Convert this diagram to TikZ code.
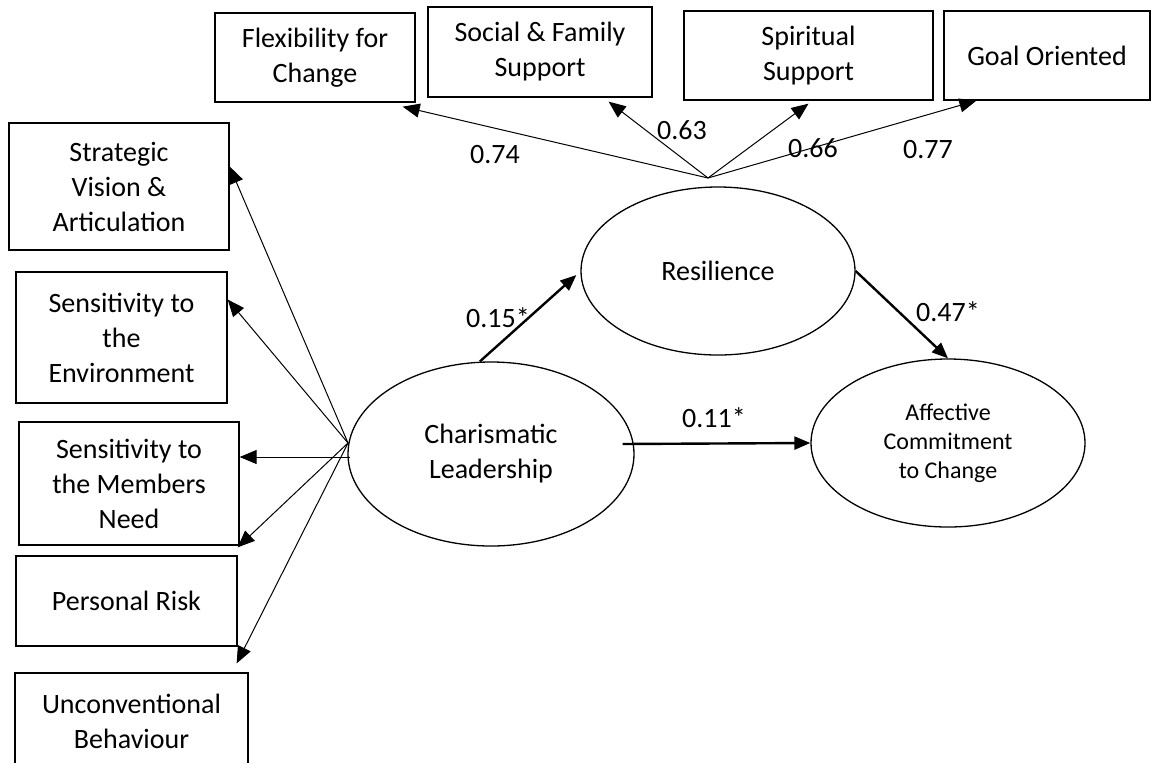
\documentclass[tikz,border=0pt]{standalone}
\usepackage{fontspec}
\setmainfont{Carlito}
\usetikzlibrary{shapes.geometric,arrows.meta}

\begin{document}
\begin{tikzpicture}
[x=0.5pt, y=-0.5pt,
 every node/.style={inner sep=0pt, font=\fontsize{14}{17.5}\selectfont},
 indbox/.style={draw=black, line width=0.65pt, align=center},
 latent/.style={draw=black, ellipse, line width=0.65pt, align=center},
 load/.style={line width=0.5pt, -{Triangle[length=8.5pt, width=7pt]}},
 path/.style={line width=1.2pt, -{Triangle[length=8pt, width=6.5pt]}}]
\useasboundingbox (0,0) rectangle (1151,762);
% resilience indicators
\node (flex) [indbox, minimum width=100pt, minimum height=44.5pt] at (315, 57.5) {Flexibility for\\Change};
\node (social) [indbox, minimum width=112pt, minimum height=45pt] at (540, 52) {Social \& Family\\Support};
\node (spirit) [indbox, minimum width=124.5pt, minimum height=44.5pt] at (808.5, 55.5) {Spiritual\\Support};
\node (goal) [indbox, minimum width=103pt, minimum height=44.5pt] at (1047, 55.5) {Goal Oriented};
% charismatic leadership indicators
\node (strat) [indbox, minimum width=110pt, minimum height=63.5pt] at (119, 186.5) {Strategic\\Vision \&\\Articulation};
\node (env) [indbox, minimum width=105.5pt, minimum height=65.5pt] at (121.5, 337.5) {Sensitivity to\\the\\Environment};
\node (memb) [indbox, minimum width=110pt, minimum height=61.5pt] at (129, 483.5) {Sensitivity to\\the Members\\Need};
\node (pers) [indbox, minimum width=110.5pt, minimum height=45pt] at (126.5, 601) {Personal Risk};
\node (unconv) [indbox, minimum width=116.5pt, minimum height=48pt] at (131.5, 721) {Unconventional\\Behaviour};
% latent variables
\node (char) [latent, minimum width=143pt, minimum height=92pt] at (491, 454) {Charismatic\\Leadership};
\node (resil) [latent, minimum width=137pt, minimum height=84pt] at (718, 271) {Resilience};
\node (affect) [latent, minimum width=137pt, minimum height=84pt, font=\fontsize{12}{14.5}\selectfont] at (948, 443) {Affective\\Commitment\\to Change};
\coordinate (rhub) at (708, 178);
\coordinate (chub) at (348, 443);
\coordinate (chubh) at (350, 457);
% loadings
\draw [load] (rhub) -- ([shift={(-6.5pt,-2pt)}]flex.south east);
\draw [load] (rhub) -- ([shift={(-22pt,-2pt)}]social.south east);
\draw [load] (rhub) -- ([yshift=-1.5pt]spirit.south);
\draw [load] (rhub) -- ([xshift=16.5pt]goal.south west);
\draw [load] (chub) -- ([yshift=10pt]strat.east);
\draw [load] (chub) -- ([yshift=19pt]env.east);
\draw [load] (chubh) -- (chubh -| memb.east);
\draw [load] (chub) -- ([yshift=4pt]pers.north east);
\draw [load] (chub) -- ([shift={(-6pt,4.5pt)}]unconv.north east);
% structural paths
\draw [path] ([xshift=-5.5pt]char.north) -- ([shift={(-2pt,-2pt)}]resil.west);
\draw [path] (resil.east) -- (affect.north);
\draw [path] ([shift={(-6pt,5pt)}]char.east) -- (affect.west);
% labels
\node (l74) at (495, 155) {0.74};
\node (l63) at (682, 130) {0.63};
\node (l66) at (813, 148) {0.66};
\node (l77) at (928, 150) {0.77};
\node (l15) at (498, 318) {0.15*};
\node (l47) at (948, 312) {0.47*};
\node (l11) at (714, 418) {0.11*};
\end{tikzpicture}
\end{document}
